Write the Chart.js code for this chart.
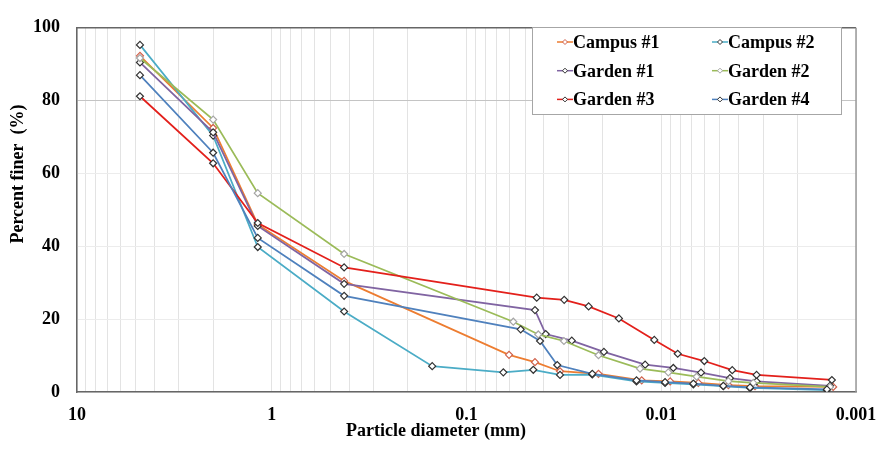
<!DOCTYPE html>
<html>
<head>
<meta charset="utf-8">
<title>Particle size distribution</title>
<script src="https://cdn.jsdelivr.net/npm/chart.js@4.4.1/dist/chart.umd.min.js"></script>
<style>
    html, body { margin: 0; padding: 0; background: #fff; }
    #wrap { width: 878px; height: 451px; }
</style>
</head>
<body>
<div id="wrap"><canvas id="gsdChart"></canvas></div>
<script>
// Grain size distribution curves for six soil samples (sieve + hydrometer)

const seriesNames = ['Campus #1', 'Campus #2', 'Garden #1', 'Garden #2', 'Garden #3', 'Garden #4'];

// particle diameter (mm) / percent finer (%) for each sample
const campus1Size  = [4.75, 2, 1.18, 0.425, 0.0605, 0.0445, 0.0331, 0.021, 0.0126, 0.009, 0.00645, 0.00452, 0.0033, 0.00131];
const campus1Finer = [92.3, 72.5, 46.0, 30.5, 10.2, 8.2, 5.7, 5.0, 3.2, 2.9, 2.5, 1.9, 1.6, 1.4];

const campus2Size  = [4.75, 2, 1.18, 0.425, 0.15, 0.0647, 0.0454, 0.0331, 0.0226, 0.0134, 0.00956, 0.00684, 0.0048, 0.0035, 0.00141];
const campus2Finer = [95.3, 70.4, 39.8, 22.1, 7.1, 5.4, 6.1, 4.7, 4.8, 2.9, 2.5, 2.1, 1.6, 1.1, 0.5];

const garden1Size  = [4.75, 2, 1.18, 0.425, 0.0445, 0.0392, 0.0288, 0.0197, 0.0121, 0.00867, 0.00625, 0.00444, 0.00324, 0.00136];
const garden1Finer = [90.5, 71.3, 45.6, 29.7, 22.5, 15.9, 14.1, 11.0, 7.5, 6.6, 5.3, 3.8, 2.9, 1.7];

const garden2Size  = [4.75, 2, 1.18, 0.425, 0.0575, 0.0428, 0.0316, 0.021, 0.01285, 0.0092, 0.00658, 0.00452, 0.00337, 0.00136];
const garden2Finer = [91.7, 74.8, 54.6, 37.9, 19.3, 15.8, 14.0, 10.1, 6.4, 5.4, 4.2, 3.0, 2.5, 1.4];

const garden3Size  = [4.75, 2, 1.18, 0.425, 0.0436, 0.0315, 0.0236, 0.0165, 0.01086, 0.00823, 0.00601, 0.00432, 0.00324, 0.00133];
const garden3Finer = [81.2, 62.8, 46.4, 34.2, 25.9, 25.3, 23.5, 20.2, 14.3, 10.5, 8.5, 6.0, 4.7, 3.3];

const garden4Size  = [4.75, 2, 1.18, 0.425, 0.0527, 0.0419, 0.0342, 0.0226, 0.0134, 0.00956, 0.00684, 0.0048, 0.0035, 0.00141];
const garden4Finer = [87.0, 65.7, 42.3, 26.4, 17.2, 14.0, 7.4, 5.0, 3.2, 2.7, 2.3, 1.7, 1.25, 0.7];

const xTickLabels = [10, 1, 0.1, 0.01, 0.001];
const yTickLabels = [0, 20, 40, 60, 80, 100];

// styles
const lineColors   = ['#ED7D31', '#4BACC6', '#8064A2', '#9BBB59', '#E3201B', '#4F81BD'];
const markerEdges  = ['#d0604a', '#333333', '#333333', '#a6a6a6', '#333333', '#333333'];
const boldFont = 'bold 18px "Liberation Serif", "Times New Roman", serif';

const sizes = [campus1Size, campus2Size, garden1Size, garden2Size, garden3Size, garden4Size];
const finer = [campus1Finer, campus2Finer, garden1Finer, garden2Finer, garden3Finer, garden4Finer];

const datasets = seriesNames.map((name, i) => ({
    label: name,
    data: sizes[i].map((d, k) => ({ x: d, y: finer[i][k] })),
    borderColor: lineColors[i],
    backgroundColor: lineColors[i],
    borderWidth: 1.75,
    tension: 0,
    pointStyle: 'rectRot',
    pointRadius: 3.5,
    pointBorderWidth: 1.2,
    pointBorderColor: markerEdges[i],
    pointBackgroundColor: '#ffffff',
    order: seriesNames.length - i // later series drawn on top, like the source
}));

// frame around the plot area (top and right sides)
const plotFrame = {
    id: 'plotFrame',
    beforeDatasetsDraw(chart) {
        const { ctx, chartArea: a } = chart;
        ctx.save();
        ctx.lineWidth = 1.5;
        ctx.strokeStyle = '#666666';
        ctx.beginPath();
        ctx.moveTo(a.left, a.top);
        ctx.lineTo(a.right, a.top);
        ctx.stroke();
        ctx.strokeStyle = '#9a9a9a';
        ctx.beginPath();
        ctx.moveTo(a.right, a.top);
        ctx.lineTo(a.right, a.bottom);
        ctx.stroke();
        ctx.restore();
    }
};

// axis titles (placed like the original, a bit off the plot centre)
const axisTitles = {
    id: 'axisTitles',
    afterDraw(chart) {
        const ctx = chart.ctx;
        ctx.save();
        ctx.fillStyle = '#000';
        ctx.font = boldFont;
        ctx.textAlign = 'center';
        ctx.textBaseline = 'alphabetic';
        ctx.fillText('Particle diameter (mm)', 436, 436);
        ctx.translate(18, 174);
        ctx.rotate(-Math.PI / 2);
        ctx.textBaseline = 'middle';
        ctx.fillText('Percent finer  (%)', 0, 0);
        ctx.restore();
    }
};

// boxed two-column legend in the upper right
const boxLegend = {
    id: 'boxLegend',
    afterDraw(chart) {
        const ctx = chart.ctx;
        ctx.save();
        ctx.fillStyle = '#fff';
        ctx.fillRect(532, 27, 309, 87);
        ctx.strokeStyle = '#a6a6a6';
        ctx.lineWidth = 1;
        ctx.strokeRect(532.5, 27.5, 309, 87);
        chart.data.datasets.forEach((ds, i) => {
            const x = 557 + (i % 2) * 155;
            const y = 42 + Math.floor(i / 2) * 28.7;
            ctx.strokeStyle = ds.borderColor;
            ctx.lineWidth = 1.5;
            ctx.beginPath();
            ctx.moveTo(x, y);
            ctx.lineTo(x + 16, y);
            ctx.stroke();
            ctx.fillStyle = '#fff';
            ctx.strokeStyle = ds.pointBorderColor;
            ctx.lineWidth = 1;
            ctx.beginPath();
            ctx.moveTo(x + 8, y - 2.5);
            ctx.lineTo(x + 10.5, y);
            ctx.lineTo(x + 8, y + 2.5);
            ctx.lineTo(x + 5.5, y);
            ctx.closePath();
            ctx.fill();
            ctx.stroke();
            ctx.fillStyle = '#000';
            ctx.font = boldFont;
            ctx.textAlign = 'left';
            ctx.textBaseline = 'alphabetic';
            ctx.fillText(ds.label, x + 16, y + 6);
        });
        ctx.restore();
    }
};

function sameValue(a, b) {
    return Math.abs(a - b) < Math.abs(b) * 1e-6;
}

const config = {
    type: 'line',
    data: { datasets: datasets },
    options: {
        responsive: true,
        maintainAspectRatio: false,
        animation: false,
        layout: { padding: { top: 16, right: 22, left: 0, bottom: 0 } },
        plugins: {
            legend: { display: false },
            title: { display: false },
            tooltip: { enabled: false }
        },
        scales: {
            x: {
                type: 'logarithmic',
                reverse: true,
                min: Math.min(...xTickLabels),
                max: Math.max(...xTickLabels),
                afterBuildTicks: scale => {
                    // decades plus 2..9 minor lines, as on the original log grid
                    const ticks = [];
                    xTickLabels.slice().sort((a, b) => a - b).forEach(d => {
                        ticks.push({ value: d, major: true });
                        if (d < scale.max) {
                            for (let m = 2; m <= 9; m++) {
                                ticks.push({ value: +(m * d).toPrecision(3), major: false });
                            }
                        }
                    });
                    scale.ticks = ticks;
                },
                afterFit: scale => { scale.height = 59; },
                ticks: {
                    autoSkip: false,
                    maxRotation: 0,
                    padding: 13,
                    color: '#000',
                    font: { family: '"Liberation Serif", "Times New Roman", serif', size: 18, weight: 'bold' },
                    callback: value => {
                        const hit = xTickLabels.find(v => sameValue(value, v));
                        return hit === undefined ? '' : String(hit);
                    }
                },
                grid: {
                    color: '#e3e3e3',
                    lineWidth: 1,
                    drawTicks: false
                },
                border: { display: true, color: '#666666', width: 1.5 }
            },
            y: {
                min: 0,
                max: 100,
                afterBuildTicks: scale => {
                    scale.ticks = yTickLabels.map(v => ({ value: v }));
                },
                afterFit: scale => { scale.width = 77; },
                ticks: {
                    padding: 17,
                    color: '#000',
                    font: { family: '"Liberation Serif", "Times New Roman", serif', size: 18, weight: 'bold' }
                },
                grid: {
                    color: c => (c.tick && c.tick.value === 80) ? '#c4c4c4' : '#ececec',
                    lineWidth: 1,
                    drawTicks: false
                },
                border: { display: true, color: '#666666', width: 1.5 }
            }
        }
    },
    plugins: [plotFrame, axisTitles, boxLegend]
};

document.addEventListener('DOMContentLoaded', function() {
    const ctx = document.getElementById('gsdChart').getContext('2d');
    new Chart(ctx, config);
});
</script>
</body>
</html>
